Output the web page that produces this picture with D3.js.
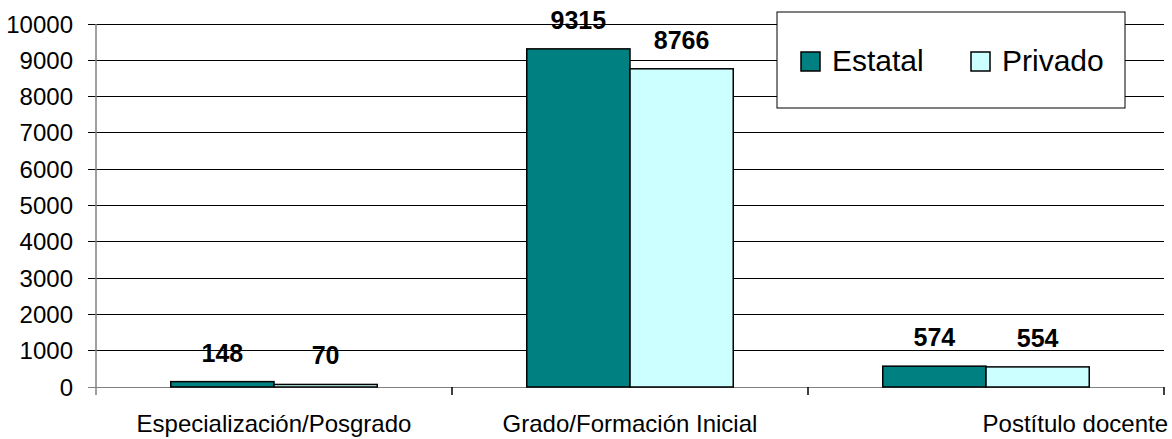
<!DOCTYPE html>
<html lang="es">
<head>
  <meta charset="utf-8">
  <title>Estatal / Privado</title>
  <script src="https://d3js.org/d3.v7.min.js"></script>
  <style>
    body { margin: 0; background: #fff; }
    text { font-family: Arial, "Liberation Sans", sans-serif; }
  </style>
</head>
<body>
<div id="chart"></div>

<script>
// data
var categories = ["Especialización/Posgrado", "Grado/Formación Inicial", "Postítulo docente"];
var seriesNames = ["Estatal", "Privado"];
var estatal = [148, 9315, 574];
var privado = [70, 8766, 554];
var yTicks = [0, 1000, 2000, 3000, 4000, 5000, 6000, 7000, 8000, 9000, 10000];
var colors = ["#008080", "#CCFFFF"];

var width = 1172, height = 439;
var margin = {top: 24, right: 8, bottom: 52, left: 96};
var plotW = width - margin.left - margin.right,
    plotH = height - margin.top - margin.bottom;

var svg = d3.select("#chart")
  .append("svg")
    .attr("width", width)
    .attr("height", height)
  .append("g")
    .attr("transform", "translate(" + margin.left + "," + margin.top + ")");

// scales
var x0 = d3.scaleBand()
    .domain(categories)
    .range([0, plotW]);
var groupW = x0.bandwidth() * 0.58;
var x1 = d3.scaleBand()
    .domain(seriesNames)
    .range([0, groupW]);
var y = d3.scaleLinear()
    .domain([0, 10000])
    .range([plotH, 0]);

// gridlines (with the little ticks on the left)
svg.append("g")
  .selectAll("line")
  .data(yTicks)
  .enter()
  .append("line")
    .attr("x1", -8)
    .attr("x2", plotW)
    .attr("y1", function(d) { return y(d); })
    .attr("y2", function(d) { return y(d); })
    .attr("stroke", function(d) { return d === 0 ? "#808080" : "#000"; })
    .attr("stroke-width", 1)
    .attr("shape-rendering", "crispEdges");

// y axis line
svg.append("line")
    .attr("x1", 0).attr("x2", 0)
    .attr("y1", 0).attr("y2", plotH + 8)
    .attr("stroke", "#808080")
    .attr("stroke-width", 1.5);

// y labels
svg.append("g")
  .selectAll("text")
  .data(yTicks)
  .enter()
  .append("text")
    .attr("x", -23)
    .attr("y", function(d) { return y(d) + 8.5; })
    .attr("text-anchor", "end")
    .attr("font-size", 24)
    .text(function(d) { return d; });

// x axis ticks at band boundaries
var bounds = categories.map(function(c) { return x0(c); }).concat([plotW]);
svg.append("g")
  .selectAll("line")
  .data(bounds.slice(1))
  .enter()
  .append("line")
    .attr("x1", function(d) { return d; })
    .attr("x2", function(d) { return d; })
    .attr("y1", plotH)
    .attr("y2", plotH + 8)
    .attr("stroke", "#000")
    .attr("stroke-width", 1.5);

// bars
var rows = categories.map(function(c, i) {
  return {cat: c, vals: [{s: seriesNames[0], v: estatal[i]}, {s: seriesNames[1], v: privado[i]}]};
});

var groups = svg.selectAll(".grp")
  .data(rows)
  .enter()
  .append("g")
    .attr("class", "grp")
    .attr("transform", function(d) { return "translate(" + (x0(d.cat) + (x0.bandwidth() - groupW) / 2) + ",0)"; });

groups.selectAll("rect")
  .data(function(d) { return d.vals; })
  .enter()
  .append("rect")
    .attr("x", function(d) { return x1(d.s); })
    .attr("y", function(d) { return y(d.v); })
    .attr("width", x1.bandwidth())
    .attr("height", function(d) { return plotH - y(d.v); })
    .attr("fill", function(d, i) { return colors[i]; })
    .attr("stroke", "#000")
    .attr("stroke-width", 1.5);

groups.selectAll(".lbl")
  .data(function(d) { return d.vals; })
  .enter()
  .append("text")
    .attr("class", "lbl")
    .attr("x", function(d) { return x1(d.s) + x1.bandwidth() / 2; })
    .attr("y", function(d) { return y(d.v) - 20; })
    .attr("text-anchor", "middle")
    .attr("font-size", 25)
    .attr("font-weight", "bold")
    .text(function(d) { return d.v; });

// category labels
svg.append("g")
  .selectAll("text")
  .data(categories)
  .enter()
  .append("text")
    .attr("x", function(d, i) { return i === categories.length - 1 ? plotW + 4 : x0(d) + x0.bandwidth() / 2; })
    .attr("y", plotH + 45)
    .attr("text-anchor", function(d, i) { return i === categories.length - 1 ? "end" : "middle"; })
    .attr("font-size", 24)
    .text(function(d) { return d; });

// legend
var legend = svg.append("g")
    .attr("transform", "translate(" + (777 - margin.left) + "," + (12 - margin.top) + ")");
legend.append("rect")
    .attr("width", 348)
    .attr("height", 96)
    .attr("fill", "#fff")
    .attr("stroke", "#000")
    .attr("stroke-width", 1);

var legendX = [24, 194];
var items = legend.selectAll(".item")
  .data(seriesNames)
  .enter()
  .append("g")
    .attr("class", "item")
    .attr("transform", function(d, i) { return "translate(" + legendX[i] + ",40)"; });
items.append("rect")
    .attr("width", 19)
    .attr("height", 19)
    .attr("fill", function(d, i) { return colors[i]; })
    .attr("stroke", "#000")
    .attr("stroke-width", 1.5);
items.append("text")
    .attr("x", 31)
    .attr("y", 19)
    .attr("font-size", 30)
    .text(function(d) { return d; });
</script>
</body>
</html>
